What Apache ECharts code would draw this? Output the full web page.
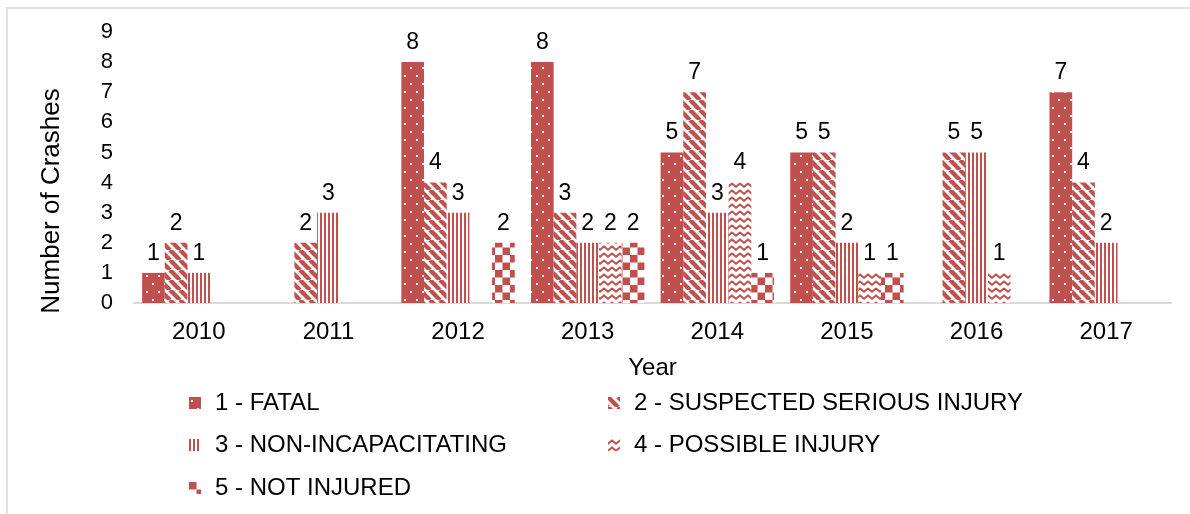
<!DOCTYPE html>
<html>
<head>
<meta charset="utf-8">
<title>Number of Crashes by Year and Severity</title>
<script src="https://cdn.jsdelivr.net/npm/echarts@6/dist/echarts.min.js"></script>
<style>
  html, body { margin: 0; padding: 0; background: #fff; }
  #chart { width: 1190px; height: 514px; }
</style>
</head>
<body>
<div id="chart"></div>
<script>
// Crash counts per year, one array per injury severity ('-' = no crashes)
const years = ['2010', '2011', '2012', '2013', '2014', '2015', '2016', '2017'];
const fatal         = [1, '-', 8, 8, 5, 5, '-', 7];
const seriousInjury = [2, 2, 4, 3, 7, 5, 5, 4];
const nonIncap      = [1, 3, 3, 2, 3, 2, 5, 2];
const possible      = ['-', '-', '-', 2, 4, 1, 1, '-'];
const notInjured    = ['-', '-', 2, 2, 1, 1, '-', '-'];
const yTicks = [0, 1, 2, 3, 4, 5, 6, 7, 8, 9];

const RED = '#C0504D';

// Small canvas tiles used as repeating fills for each severity
function tile(w, h, draw) {
  const c = document.createElement('canvas');
  c.width = w; c.height = h;
  const ctx = c.getContext('2d');
  draw(ctx, w, h);
  return { image: c, repeat: 'repeat' };
}

const dotFill = tile(12, 16, (ctx, w, h) => {
  ctx.fillStyle = RED; ctx.fillRect(0, 0, w, h);
  ctx.fillStyle = '#fff';
  ctx.fillRect(2, 3, 2, 2);
  ctx.fillRect(8, 11, 2, 2);
});

const diagFill = tile(10, 10, (ctx, w, h) => {
  ctx.fillStyle = '#fff'; ctx.fillRect(0, 0, w, h);
  ctx.strokeStyle = RED; ctx.lineWidth = 4.4;
  for (let i = -1; i <= 1; i++) {
    ctx.beginPath();
    ctx.moveTo(i * w, 0);
    ctx.lineTo(i * w + w, h);
    ctx.stroke();
  }
});

const vertFill = tile(4, 4, (ctx, w, h) => {
  ctx.fillStyle = '#fff'; ctx.fillRect(0, 0, w, h);
  ctx.fillStyle = RED; ctx.fillRect(0, 0, 2, h);
});

const zigFill = tile(8, 7, (ctx, w, h) => {
  ctx.fillStyle = '#fff'; ctx.fillRect(0, 0, w, h);
  ctx.strokeStyle = RED; ctx.lineWidth = 2;
  ctx.beginPath();
  ctx.moveTo(-1, 5.5); ctx.lineTo(4, 1.5); ctx.lineTo(9, 5.5);
  ctx.stroke();
});

const checkFill = tile(15, 15, (ctx, w, h) => {
  ctx.fillStyle = '#fff'; ctx.fillRect(0, 0, w, h);
  ctx.fillStyle = RED;
  ctx.fillRect(0, 0, 7.5, 7.5);
  ctx.fillRect(7.5, 7.5, 7.5, 7.5);
});

const seriesDefs = [
  { name: '1 - FATAL', data: fatal, fill: dotFill },
  { name: '2 - SUSPECTED SERIOUS INJURY', data: seriousInjury, fill: diagFill },
  { name: '3 - NON-INCAPACITATING', data: nonIncap, fill: vertFill },
  { name: '4 - POSSIBLE INJURY', data: possible, fill: zigFill },
  { name: '5 - NOT INJURED', data: notInjured, fill: checkFill }
];

const FONT = 'Liberation Sans, Arial, sans-serif';

// Legend laid out in two columns, one legend block per entry
const legendSlots = [
  { left: 189, top: 391 },
  { left: 608, top: 391 },
  { left: 189, top: 433 },
  { left: 608, top: 433 },
  { left: 189, top: 476 }
];

const chart = echarts.init(document.getElementById('chart'), null, { renderer: 'canvas' });

chart.setOption({
  backgroundColor: '#fff',
  animation: false,
  textStyle: { fontFamily: FONT },
  graphic: [{
    type: 'rect',
    z: -10,
    shape: { x: 7, y: 8, width: 1200, height: 600 },
    style: { fill: 'none', stroke: '#d9d9d9', lineWidth: 1.5 }
  }, {
    type: 'text',
    x: 52,
    y: 201,
    rotation: Math.PI / 2,
    style: {
      text: 'Number of Crashes',
      fontSize: 26,
      fontFamily: FONT,
      fill: '#000',
      align: 'center',
      verticalAlign: 'middle'
    }
  }],
  grid: { left: 134, right: 19, top: 32, bottom: 211 },
  legend: seriesDefs.map((s, i) => ({
    data: [s.name],
    left: legendSlots[i].left,
    top: legendSlots[i].top,
    padding: 0,
    icon: 'rect',
    itemWidth: 12,
    itemHeight: 12,
    selectedMode: false,
    textStyle: { fontSize: 24, color: '#000', fontFamily: FONT, padding: [0, 0, 0, 9] }
  })),
  xAxis: {
    type: 'category',
    data: years,
    name: 'Year',
    nameLocation: 'middle',
    nameGap: 53,
    nameTextStyle: { fontSize: 24, color: '#000', fontFamily: FONT },
    axisLine: { lineStyle: { color: '#d9d9d9', width: 2 } },
    axisTick: { show: false },
    axisLabel: { fontSize: 24, color: '#000', margin: 17, fontFamily: FONT }
  },
  yAxis: {
    type: 'value',
    min: yTicks[0],
    max: yTicks[yTicks.length - 1],
    interval: 1,
    axisLine: { show: false },
    axisTick: { show: false },
    splitLine: { show: false },
    axisLabel: { fontSize: 22, color: '#000', margin: 21, fontFamily: FONT }
  },
  series: seriesDefs.map(s => ({
    name: s.name,
    type: 'bar',
    data: s.data,
    barGap: '0%',
    barCategoryGap: '12.5%',
    itemStyle: { color: s.fill },
    label: {
      show: true,
      position: 'top',
      distance: 8,
      fontSize: 23,
      color: '#000',
      fontFamily: FONT
    }
  }))
});
</script>
</body>
</html>
